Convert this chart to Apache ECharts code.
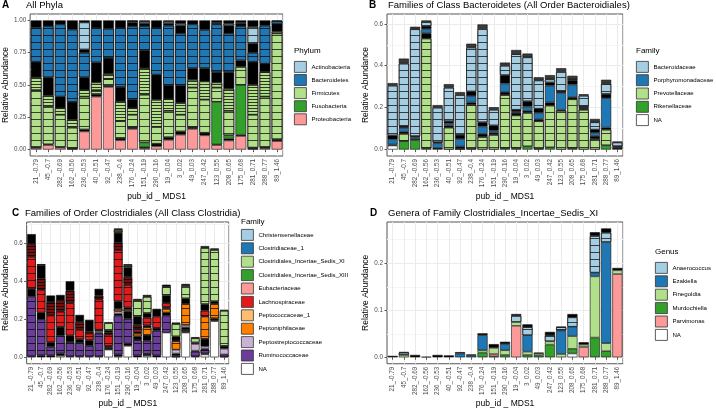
<!DOCTYPE html>
<html><head><meta charset="utf-8">
<script src="https://cdn.jsdelivr.net/npm/echarts@6/dist/echarts.min.js"></script>
<style>html,body{margin:0;padding:0;background:#fff}#c{width:716px;height:409px}</style>
</head><body><div id="c"></div>
<script>
const categories = ['21_-0.79','45_-0.7','282_-0.69','162_-0.56','236_-0.53','40_-0.51','92_-0.47','238_-0.4','176_-0.24','151_-0.19','290_-0.16','19_-0.04','3_0.02','49_0.03','247_0.42','123_0.55','208_0.65','175_0.68','281_0.71','288_0.77','89_1.46'];

// ---------- Panel A : All Phyla ----------
const A_ticks = [0, 0.25, 0.5, 0.75, 1.0];
const A_Proteobacteria     = [.012,.035,.015,.005,.14,.41,.485,.072,.16,.01,.025,.075,.115,.16,.11,.035,.07,.105,.005,.01,.065];
const A_ProteobacteriaRare = [.008,.005,.005,.003,.015,.02,.01,.018,.015,.01,.02,.02,.025,.015,.02,.005,.015,.01,.01,.01,.015];
const A_Fusobacteria       = [0,0,0,0,0,0,0,0,0,.035,0,0,0,0,0,.33,.025,.385,0,0,0];
const A_Firmicutes         = [.44,.29,.25,.162,.255,.03,.05,.13,.095,.37,.13,.205,.13,.305,.257,.11,.19,.14,.255,.39,.82];
const A_FirmicutesDense    = [.10,.09,.05,.06,.05,.06,.04,.154,.05,.205,.21,.09,.09,.06,.141,.04,.17,0,.23,.19,.015];
const A_FirmicutesRare     = [.12,.14,.09,.14,.10,.155,.125,.111,.067,.14,.195,.11,.135,.09,.103,.08,.13,.05,.18,.065,.06];
const A_Bacteroidetes      = [.265,.395,.56,.56,.19,.265,.225,.455,.568,.185,.36,.46,.405,.34,.297,.37,.30,.265,.07,.295,.02];
const A_BacteroidetesRare  = [.055,.045,.03,.07,.025,.06,.065,.06,.03,.02,.06,.015,.06,.03,.072,.005,.06,.02,.07,.04,.005];
const A_Actinobacteria     = [0,0,0,0,.21,0,0,0,.01,.015,0,.015,.015,0,0,.01,.015,.01,.13,0,0];
const A_ActinobacteriaRare = [0,0,0,0,.015,0,0,0,.005,.01,0,.01,.025,0,0,.015,.025,.015,.05,0,0];

// ---------- Panel B : Families of Class Bacteroidetes ----------
const B_ticks = [0, 0.2, 0.4, 0.6];
const B_NA                     = [.019,0,0,0,0,0,0,0,0,0,0,0,0,0,0,0,0,0,0,0,0];
const B_Rikenellaceae          = [0,.04,.045,.005,0,0,0,.003,0,0,.005,.005,.015,.003,.01,0,.005,0,0,.02,0];
const B_Prevotellaceae         = [0,.035,0,.525,0,.105,.005,.212,.06,.07,.255,.158,.16,.132,.2,.185,.235,.19,.05,.075,0];
const B_PrevotellaceaeRare     = [.005,.01,.005,.025,.008,.01,.01,.01,.015,.01,.015,.012,.01,.01,.015,.005,.01,.008,.015,.01,.008];
const B_Porphyromonadaceae     = [.025,.018,.008,.02,.022,.01,.035,.03,.035,.01,.04,.005,.02,.03,.08,.08,.06,.005,.015,.14,0];
const B_PorphyromonadaceaeRare = [.018,.01,.006,.015,.005,.01,.02,.022,.02,.025,.04,.01,.025,.02,.015,.01,.02,.002,.015,.02,.008];
const B_Bacteroidaceae         = [.238,.297,.51,.018,.165,.16,.19,.21,.445,.075,.045,.265,.21,.135,.015,.09,.005,.052,.035,.05,.018];
const B_BacteroidaceaeRare     = [.012,.024,.012,.008,.012,.017,.014,.018,.022,.012,.015,.02,.018,.015,.02,.018,.017,.007,.016,.018,.004];

// ---------- Panel C : Families of Order Clostridiales ----------
const C_ticks = [0, 0.2, 0.4, 0.6];
const C_NA                        = [0,0,0,.008,0,0,0,0,.04,.005,.06,0,.008,0,.13,0,.13,0,.015,.19,0];
const C_NARare                    = [.005,.01,.01,.012,.005,.005,.005,.005,.005,.01,.012,.01,.01,.01,0,0,.005,.005,.005,.005,.003];
const C_Ruminococcaceae           = [.315,.19,.045,.095,.075,.07,.055,.12,.005,.205,.13,.08,.07,.13,.09,.01,.008,.025,.02,0,.012];
const C_RuminococcaceaeRare       = [.04,.035,.025,.045,.035,.02,.03,.005,.01,.01,.04,.02,.03,.015,.015,.01,.015,.005,.005,0,0];
const C_Peptostreptococcaceae     = [0,0,0,0,0,0,0,.008,0,.012,0,0,0,0,0,.02,.012,.035,.012,0,.03];
const C_PeptostreptococcaceaeRare = [0,0,0,0,0,0,0,.007,0,0,0,0,0,0,0,0,0,.008,.04,.01,.015];
const C_Peptoniphilaceae          = [0,0,0,0,0,0,0,0,0,.013,.01,.015,.04,0,.02,.045,.11,0,.118,.075,0];
const C_PeptoniphilaceaeRare      = [0,0,0,0,0,0,0,0,0,.04,.01,.01,.01,0,.01,.025,.03,0,0,.015,0];
const C_Peptococcaceae_1          = [0,0,0,0,0,0,0,0,0,0,0,0,0,0,0,0,0,0,0,0,0];
const C_Lachnospiraceae           = [.17,.12,.14,.08,.17,.05,.035,.16,.06,.27,.12,.015,.04,.06,.02,0,0,0,.03,0,0];
const C_LachnospiraceaeDense      = [.065,.06,.07,.06,.065,.04,.01,.02,.01,.04,.04,.02,0,0,0,0,0,0,0,0,0];
const C_LachnospiraceaeRare       = [.053,.07,.035,.028,.05,.038,.062,.035,.01,.05,.05,.045,.025,.04,.04,0,0,0,.035,0,0];
const C_Eubacteriaceae            = [0,0,0,0,0,0,0,0,0,0,0,0,0,0,0,0,0,0,0,0,0];
const C_Incertae_Sedis_XIII       = [0,0,0,0,0,0,0,0,0,0,0,0,0,0,0,0,0,0,0,0,0];
const C_Incertae_Sedis_XI         = [0,.005,0,0,0,0,0,0,.04,.015,.012,.085,.085,0,.045,.065,.065,.022,.295,.27,.185];
const C_Incertae_Sedis_XIRare     = [0,0,0,0,0,0,0,0,.005,.008,.006,.007,.01,0,.012,.008,.011,.006,.01,.008,.005];
const C_Clostridiaceae_1          = [0,0,0,0,0,0,0,0,0,0,0,0,0,0,0,0,0,0,0,0,0];
const C_Christensenellaceae       = [0,0,0,0,0,0,0,0,0,0,0,0,0,0,0,0,0,0,0,0,0];

// ---------- Panel D : Genera of Family Clostridiales_Incertae_Sedis_XI ----------
const D_ticks = [0, 0.1, 0.2];
const D_NA           = [0,0,0,0,0,0,0,0,0,0,0,0,0,0,0,0,.008,0,0,0,0];
const D_Murdochiella = [0,0,0,0,0,0,0,0,.01,.002,.005,0,.005,.004,.027,0,.01,0,.042,.013,0];
const D_Parvimonas   = [0,0,0,0,0,0,0,0,0,.005,0,.067,0,0,0,0,0,.022,0,0,.177];
const D_Finegoldia   = [0,.005,0,0,0,0,0,0,.005,.013,.01,.008,.007,.004,.007,.007,.027,.005,.13,.017,.008];
const D_Ezakiella    = [0,0,0,0,0,0,.008,.004,.032,0,.013,0,.035,0,0,.05,.02,0,.008,.215,0];
const D_Anaerococcus = [0,.005,0,0,0,0,0,0,0,0,0,.013,.017,0,.013,.007,.02,0,.078,.02,0];
const D_Rare         = [.003,.001,.005,.001,.005,.004,.003,.002,.004,.008,.005,.004,.006,.002,.007,.001,.007,.005,.008,.009,.005];

// ---------- styling ----------
const FONT = '"Liberation Sans", Arial, Helvetica, sans-serif';
const PAL = {lb:'#A6CEE3', db:'#1F78B4', lg:'#B2DF8A', dg:'#33A02C', pk:'#FB9A99', rd:'#E31A1C', lo:'#FDBF6F', or:'#FF7F00', lp:'#CAB2D6', pu:'#6A3D9A', wh:'#FFFFFF', k:'#000000', drd:'#7A0C0E'};
const thin  = {symbol:'rect', symbolSize:1, dashArrayX:[1,0], dashArrayY:[1,6], color:'rgba(0,0,0,0.7)'};
const thick = {symbol:'rect', symbolSize:1, dashArrayX:[1,0], dashArrayY:[1,2], color:'rgba(0,0,0,0.75)'};

const panels = [
  { letter:'A', title:'All Phyla', grid:{left:27, top:14, width:256, height:142}, ticks:A_ticks, dec:2,
    letterPos:[2,0], titlePos:[26,0], yNameGap:19, xNameGap:36,
    legendTitle:'Phylum', legendTitlePos:[294,47], legendPos:[294,61], legendGap:1.3,
    legendNames:['Actinobacteria','Bacteroidetes','Firmicutes','Fusobacteria','Proteobacteria'],
    layers:[
      ['Proteobacteria', A_Proteobacteria, PAL.pk, null],
      ['A_pr_r', A_ProteobacteriaRare, PAL.k, null],
      ['Fusobacteria', A_Fusobacteria, PAL.dg, null],
      ['Firmicutes', A_Firmicutes, PAL.lg, thin],
      ['A_fi_d', A_FirmicutesDense, PAL.lg, thick],
      ['A_fi_r', A_FirmicutesRare, PAL.k, null],
      ['Bacteroidetes', A_Bacteroidetes, PAL.db, thin],
      ['A_ba_r', A_BacteroidetesRare, PAL.k, null],
      ['Actinobacteria', A_Actinobacteria, PAL.lb, thin],
      ['A_ac_r', A_ActinobacteriaRare, PAL.k, null]
    ]},
  { letter:'B', title:'Families of Class Bacteroidetes (All Order Bacteroidiales)', grid:{left:387, top:14, width:236, height:142}, ticks:B_ticks, dec:1,
    letterPos:[369,0], titlePos:[388,0], yNameGap:16, xNameGap:36,
    legendTitle:'Family', legendTitlePos:[636,47], legendPos:[636,61], legendGap:1.5,
    legendNames:['Bacteroidaceae','Porphyromonadaceae','Prevotellaceae','Rikenellaceae','NA'],
    layers:[
      ['NA', B_NA, PAL.wh, null],
      ['Rikenellaceae', B_Rikenellaceae, PAL.dg, null],
      ['Prevotellaceae', B_Prevotellaceae, PAL.lg, thin],
      ['B_pv_r', B_PrevotellaceaeRare, PAL.k, null],
      ['Porphyromonadaceae', B_Porphyromonadaceae, PAL.db, null],
      ['B_po_r', B_PorphyromonadaceaeRare, PAL.k, null],
      ['Bacteroidaceae', B_Bacteroidaceae, PAL.lb, thin],
      ['B_ba_r', B_BacteroidaceaeRare, '#3a3a3a', null]
    ]},
  { letter:'C', title:'Families of Order Clostridiales (All Class Clostridia)', grid:{left:23, top:222, width:206, height:142}, ticks:C_ticks, dec:1,
    letterPos:[12,208], titlePos:[25,208], yNameGap:15, xNameGap:28,
    legendTitle:'Family', legendTitlePos:[241,218], legendPos:[241,229], legendGap:1.6,
    legendNames:['Christensenellaceae','Clostridiaceae_1','Clostridiales_Incertae_Sedis_XI','Clostridiales_Incertae_Sedis_XIII','Eubacteriaceae','Lachnospiraceae','Peptococcaceae_1','Peptoniphilaceae','Peptostreptococcaceae','Ruminococcaceae','NA'],
    layers:[
      ['NA', C_NA, PAL.wh, null],
      ['C_na_r', C_NARare, PAL.k, null],
      ['Ruminococcaceae', C_Ruminococcaceae, PAL.pu, thin],
      ['C_ru_r', C_RuminococcaceaeRare, PAL.k, null],
      ['Peptostreptococcaceae', C_Peptostreptococcaceae, PAL.lp, null],
      ['C_ps_r', C_PeptostreptococcaceaeRare, PAL.k, null],
      ['Peptoniphilaceae', C_Peptoniphilaceae, PAL.or, thin],
      ['C_pn_r', C_PeptoniphilaceaeRare, PAL.k, null],
      ['Peptococcaceae_1', C_Peptococcaceae_1, PAL.lo, null],
      ['Lachnospiraceae', C_Lachnospiraceae, PAL.rd, thin],
      ['C_la_d', C_LachnospiraceaeDense, PAL.drd, thick],
      ['C_la_r', C_LachnospiraceaeRare, PAL.k, null],
      ['Eubacteriaceae', C_Eubacteriaceae, PAL.pk, null],
      ['Clostridiales_Incertae_Sedis_XIII', C_Incertae_Sedis_XIII, PAL.dg, null],
      ['Clostridiales_Incertae_Sedis_XI', C_Incertae_Sedis_XI, PAL.lg, thin],
      ['C_xi_r', C_Incertae_Sedis_XIRare, PAL.k, null],
      ['Clostridiaceae_1', C_Clostridiaceae_1, PAL.db, null],
      ['Christensenellaceae', C_Christensenellaceae, PAL.lb, null]
    ]},
  { letter:'D', title:'Genera of Family Clostridiales_Incertae_Sedis_XI', grid:{left:387, top:222, width:236, height:142}, ticks:D_ticks, dec:1,
    letterPos:[370,208], titlePos:[388,208], yNameGap:16, xNameGap:28,
    legendTitle:'Genus', legendTitlePos:[655,248], legendPos:[655,262], legendGap:1.6,
    legendNames:['Anaerococcus','Ezakiella','Finegoldia','Murdochiella','Parvimonas','NA'],
    layers:[
      ['NA', D_NA, PAL.wh, null],
      ['Murdochiella', D_Murdochiella, PAL.dg, null],
      ['Parvimonas', D_Parvimonas, PAL.pk, null],
      ['Finegoldia', D_Finegoldia, PAL.lg, null],
      ['Ezakiella', D_Ezakiella, PAL.db, null],
      ['Anaerococcus', D_Anaerococcus, PAL.lb, thin],
      ['D_rare', D_Rare, PAL.k, null]
    ]}
];

const option = {animation:false, backgroundColor:'#fff', textStyle:{fontFamily:FONT},
  title:[], legend:[], grid:[], xAxis:[], yAxis:[], series:[]};
const halfCats = []; for (let i = 0; i < categories.length*2; i++) halfCats.push('h'+i);

panels.forEach((p, gi) => {
  const totals = categories.map((_, i) => p.layers.reduce((s, l) => s + l[1][i], 0));
  const tmax = Math.max(...totals);
  const ymin = -0.05*tmax, ymax = 1.05*tmax;
  const step = p.ticks[1]-p.ticks[0], half = step/2;
  const lines = [];
  for (let k = 0; k*half <= ymax + 1e-9; k++) lines.push(+(k*half).toFixed(6));

  option.grid.push({left:p.grid.left, top:p.grid.top, width:p.grid.width, height:p.grid.height,
    show:true, borderColor:'#555', borderWidth:1, backgroundColor:'#fff'});
  option.title.push({text:p.letter, left:p.letterPos[0], top:p.letterPos[1], padding:0,
    textStyle:{fontSize:10, fontWeight:'bold', color:'#000', fontFamily:FONT}});
  option.title.push({text:p.title, left:p.titlePos[0], top:p.titlePos[1], padding:0,
    textStyle:{fontSize:9.5, fontWeight:'normal', color:'#000', fontFamily:FONT}});
  option.title.push({text:p.legendTitle, left:p.legendTitlePos[0], top:p.legendTitlePos[1], padding:0,
    textStyle:{fontSize:8, fontWeight:'normal', color:'#000', fontFamily:FONT}});

  option.xAxis.push({type:'category', gridIndex:gi, data:categories,
    axisLine:{show:false}, axisTick:{show:true, alignWithLabel:true, length:2.5, lineStyle:{color:'#333', width:0.8}},
    axisLabel:{interval:0, rotate:90, fontSize:6.3, color:'#4D4D4D', margin:3, fontFamily:FONT},
    splitLine:{show:false},
    name:'pub_id _ MDS1', nameLocation:'middle', nameGap:p.xNameGap,
    nameTextStyle:{fontSize:8.5, color:'#000', fontFamily:FONT}});
  option.xAxis.push({type:'category', gridIndex:gi, data:halfCats, position:'top',
    axisLine:{show:false}, axisTick:{show:false}, axisLabel:{show:false},
    splitLine:{show:true, interval:(i) => i % 2 === 1, lineStyle:{color:'#EBEBEB', width:1}}});
  option.yAxis.push({type:'value', gridIndex:gi, min:ymin, max:ymax,
    axisLine:{show:false}, axisTick:{show:false, customValues:lines},
    axisLabel:{customValues:p.ticks, formatter:(v) => v.toFixed(p.dec), fontSize:6.3, color:'#4D4D4D', margin:4, fontFamily:FONT},
    splitLine:{show:true, lineStyle:{color:['#EBEBEB','#F6F6F6'], width:1}},
    name:'Relative Abundance', nameLocation:'middle', nameGap:p.yNameGap, nameRotate:90,
    nameTextStyle:{fontSize:8.5, color:'#000', fontFamily:FONT}});
  option.yAxis.push({type:'value', gridIndex:gi, min:ymin, max:ymax, position:'left',
    axisLine:{show:false}, axisTick:{show:true, length:2.5, customValues:p.ticks, lineStyle:{color:'#333', width:0.8}},
    axisLabel:{show:false}, splitLine:{show:false}});

  p.layers.forEach(([name, data, color, decal]) => {
    const itemStyle = {color:color, borderColor:'#111', borderWidth:0.6};
    if (decal) itemStyle.decal = decal;
    option.series.push({type:'bar', name:name, stack:'S'+gi, xAxisIndex:gi*2, yAxisIndex:gi*2,
      barWidth:'90%', itemStyle:itemStyle, emphasis:{disabled:true},
      data:data.map(v => v > 0 ? v : '-')});
  });

  option.legend.push({data:p.legendNames, orient:'vertical', left:p.legendPos[0], top:p.legendPos[1],
    itemWidth:12, itemHeight:11, itemGap:p.legendGap, padding:0, icon:'rect', selectedMode:false,
    itemStyle:{borderColor:'#333', borderWidth:0.8, decal:'none'},
    textStyle:{fontSize:6.1, color:'#000', fontFamily:FONT}});
});

const chart = echarts.init(document.getElementById('c'), null, {renderer:'canvas'});
chart.setOption(option);
</script>
</body></html>
